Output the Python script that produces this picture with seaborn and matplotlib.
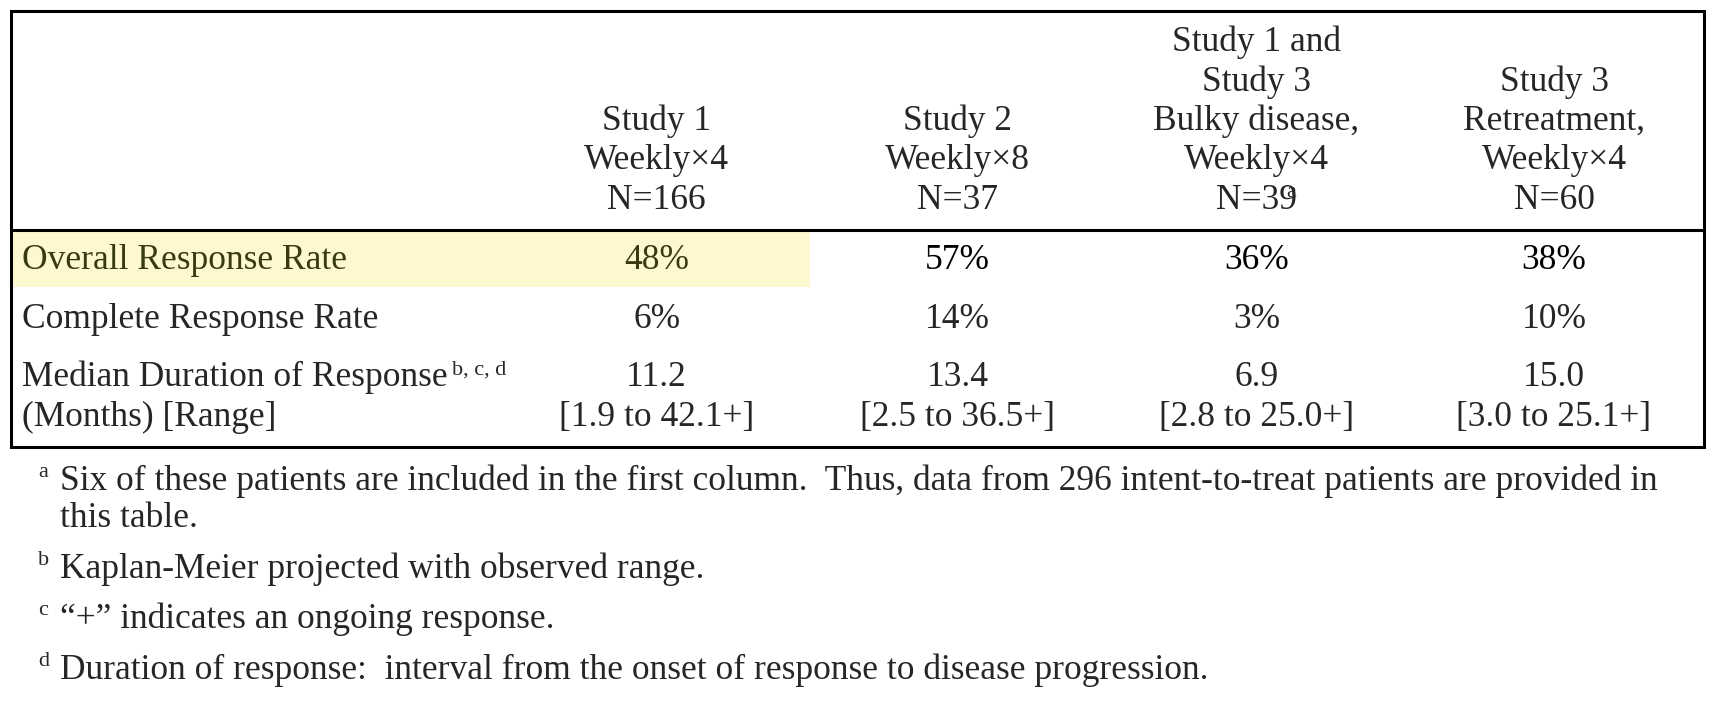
import matplotlib
matplotlib.use("Agg")
import matplotlib.pyplot as plt
import seaborn as sns

# table content
col_headers = [
    ["Study 1", "Weekly\u00d74", "N=166"],
    ["Study 2", "Weekly\u00d78", "N=37"],
    ["Study 1 and", "Study 3", "Bulky disease,", "Weekly\u00d74", "N=39"],
    ["Study 3", "Retreatment,", "Weekly\u00d74", "N=60"],
]
row_labels = ["Overall Response Rate", "Complete Response Rate", "Median Duration of Response"]
overall_rate = ["48%", "57%", "36%", "38%"]
complete_rate = ["6%", "14%", "3%", "10%"]
median_duration = ["11.2", "13.4", "6.9", "15.0"]
duration_range = ["[1.9 to 42.1+]", "[2.5 to 36.5+]", "[2.8 to 25.0+]", "[3.0 to 25.1+]"]
footnotes = [
    ("a", ["Six of these patients are included in the first column.  Thus, data from 296 intent-to-treat patients are provided in",
           "this table."]),
    ("b", ["Kaplan-Meier projected with observed range."]),
    ("c", ["\u201c+\u201d indicates an ongoing response."]),
    ("d", ["Duration of response:  interval from the onset of response to disease progression."]),
]

sns.set_theme(style="white")
plt.rcParams['font.family'] = ['Liberation Serif', 'DejaVu Serif']

fig = plt.figure(figsize=(17.16, 7.06), dpi=100)
ax = fig.add_axes([0, 0, 1, 1])
# layout coordinates measured on a 1568-wide view of the reference
ax.set_xlim(0, 1568)
ax.set_ylim(645, 0)
ax.axis("off")

fs = 25.5
sfs = 16
col_x = [600, 875, 1148, 1420]

# highlight and borders
ax.add_patch(plt.Rectangle((10, 212), 730, 50, color="#fdf8cf", lw=0, zorder=0))
ax.add_patch(plt.Rectangle((10, 10), 1547, 398, fill=False, ec="black", lw=2.2))
ax.plot([10, 1557], [210, 210], color="black", lw=2.2)

# headers, bottom aligned
for x, lines in zip(col_x, col_headers):
    n = len(lines)
    for i, t in enumerate(lines):
        y = 183 - (n - 1 - i) * 36
        ax.text(x, y, t, ha="center", va="center", fontsize=fs)
ax.text(1175, 176, "a", fontsize=sfs, ha="left", va="center")

# rows
ax.text(20, 238, row_labels[0], fontsize=fs, va="center", color="#3a3a10")
ax.text(20, 292, row_labels[1], fontsize=fs, va="center")
ax.text(20, 345, row_labels[2], fontsize=fs, va="center")
ax.text(413, 338, "b, c, d", fontsize=sfs, va="center")
ax.text(20, 381, "(Months) [Range]", fontsize=fs, va="center")
for i, x in enumerate(col_x):
    ax.text(x, 238, overall_rate[i], ha="center", va="center", fontsize=fs,
            color="#3a3a10" if i == 0 else "black")
    ax.text(x, 292, complete_rate[i], ha="center", va="center", fontsize=fs)
    ax.text(x, 345, median_duration[i], ha="center", va="center", fontsize=fs)
    ax.text(x, 381, duration_range[i], ha="center", va="center", fontsize=fs)

# footnotes
y = 440
for mark, lines in footnotes:
    ax.text(35, y - 8, mark, fontsize=sfs, va="center")
    for j, t in enumerate(lines):
        ax.text(55, y + j * 34, t, fontsize=fs, va="center")
    y += 34 * (len(lines) - 1) + 46

fig.savefig("out.png", dpi=100)
